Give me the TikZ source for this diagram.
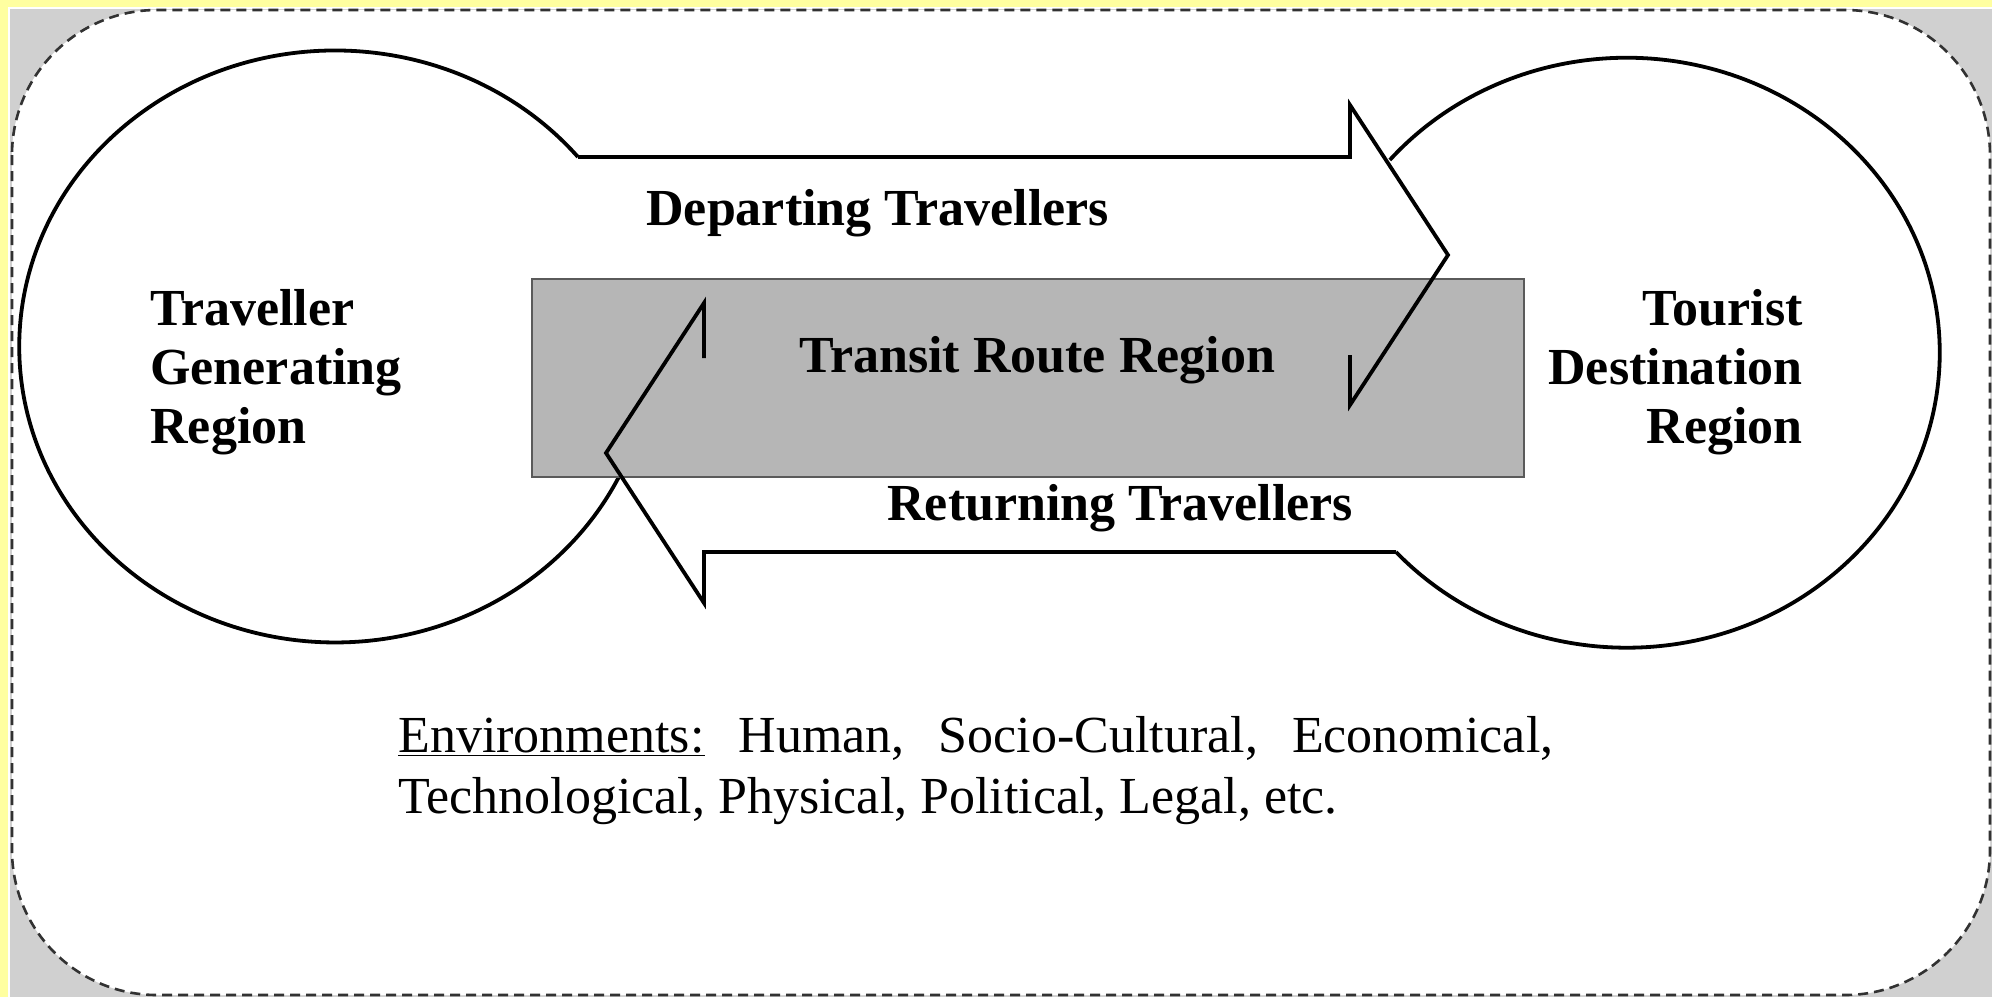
\documentclass[tikz,border=0pt]{standalone}
\usepackage{fontspec}
\setmainfont{Liberation Serif}
\definecolor{yel}{RGB}{255,255,160}
\definecolor{bggray}{RGB}{208,208,208}
\definecolor{rectgray}{RGB}{182,182,182}
\definecolor{rectborder}{RGB}{90,90,90}
\definecolor{dashgray}{RGB}{50,50,50}
\begin{document}
\begin{tikzpicture}[x=0.5pt,y=-0.5pt,
  outline/.style={line width=1.9pt, draw=black, line join=miter},
  lbl/.style={inner sep=0pt, font=\fontsize{26}{29.5}\selectfont\bfseries},
  envtext/.style={inner sep=0pt, font=\fontsize{26}{30.5}\selectfont}]
\useasboundingbox (0,0) rectangle (1992,997);
% background
\fill[yel] (0,0) rectangle (1992,997);
\fill[white] (8,7) rectangle (1992,997);
\fill[bggray] (10,9) rectangle (1992,997);
\draw[fill=white, draw=dashgray, line width=1.3pt, dash pattern=on 5pt off 3pt,
      rounded corners=72.5pt] (12,10) rectangle (1990,995);
% circles (visible parts)
\draw[outline] (578,157) arc[start angle=-39.8, end angle=-334.8, x radius=316, y radius=296];
\draw[outline] (1396,552) arc[start angle=137.5, end angle=-139.2, x radius=313, y radius=295];
% transit rectangle
\draw[fill=rectgray, draw=rectborder, line width=1.1pt] (532,279) rectangle (1524,477);
% arrows
\draw[outline] (578,157) -- (1350,157) -- (1350,105) -- (1448,255) -- (1350,405) -- (1350,355);
\draw[outline] (704,358) -- (704,303) -- (606,453) -- (704,603) -- (704,552) -- (1396,552);
% labels
\node[lbl, anchor=base west, align=left] (tgr) at (150,443) {Traveller\\Generating\\Region};
\node[lbl, anchor=base east, align=right] (tdr) at (1803,443) {Tourist\\Destination\\Region};
\node[lbl, anchor=base west] (dep) at (646,225) {Departing Travellers};
\node[lbl, anchor=base west] (trr) at (799,372) {Transit Route Region};
\node[lbl, anchor=base west] (ret) at (887,520) {Returning Travellers};
\node[envtext, anchor=base west] (env1) at (398,752)
  {\hbox to 577.5pt{\underline{Environments:}\hfill Human,\hfill Socio-Cultural,\hfill Economical,}};
\node[envtext, anchor=base west] (env2) at (398,813) {Technological, Physical, Political, Legal, etc.};
\end{tikzpicture}
\end{document}
